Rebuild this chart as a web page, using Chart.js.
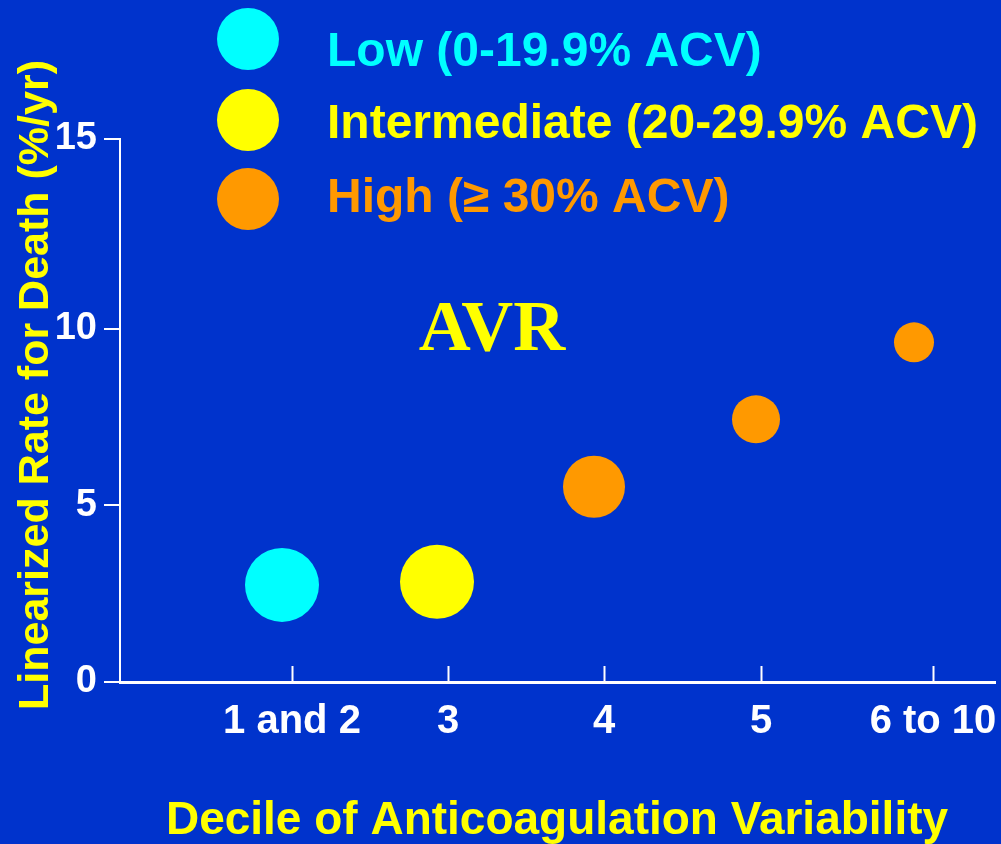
<!DOCTYPE html>
<html>
<head>
<meta charset="utf-8">
<script src="https://cdn.jsdelivr.net/npm/chart.js@4.4.1/dist/chart.umd.min.js"></script>
<style>
  html, body { margin: 0; padding: 0; background: #0033cc; }
  canvas { display: block; }
</style>
</head>
<body>
<canvas id="myChart" width="1001" height="844"></canvas>
<script>
// data
const xTickLabels = ['1 and 2', '3', '4', '5', '6 to 10']
const xTickPos = [1.72, 3.28, 4.84, 6.41, 8.13]
const yTickValues = [0, 5, 10, 15]

const bubbleX = [1.62, 3.17, 4.74, 6.36, 7.94]
const deathRate = [2.75, 2.84, 5.53, 7.44, 9.62]
const bubbleR = [37, 37, 31, 24, 20]
const acvGroup = ['low', 'intermediate', 'high', 'high', 'high']

const legendLabels = ['Low (0-19.9% ACV)', 'Intermediate (20-29.9% ACV)', 'High (\u2265 30% ACV)']
const groupColors = { low: '#00ffff', intermediate: '#ffff00', high: '#ff9900' }

const FONT = '"Liberation Sans", Arial, Helvetica, sans-serif'

const points = []
for (let i = 0; i < deathRate.length; i++) {
    points.push({ x: bubbleX[i], y: deathRate[i], r: bubbleR[i] })
}

const extras = {
    id: 'extras',
    afterDraw(chart) {
        const ctx = chart.ctx
        const xs = chart.scales.x
        const area = chart.chartArea

        // x tick marks point up into the plot
        ctx.save()
        ctx.strokeStyle = '#ffffff'
        ctx.lineWidth = 2
        xTickPos.forEach(v => {
            const px = Math.round(xs.getPixelForValue(v)) + 0.5
            ctx.beginPath()
            ctx.moveTo(px, area.bottom)
            ctx.lineTo(px, area.bottom - 16)
            ctx.stroke()
        })

        // legend
        const keys = ['low', 'intermediate', 'high']
        const rowY = [39, 120, 199]
        const baseY = [66, 138, 212]
        ctx.font = 'bold 48px ' + FONT
        ctx.textAlign = 'left'
        ctx.textBaseline = 'alphabetic'
        keys.forEach((k, i) => {
            ctx.fillStyle = groupColors[k]
            ctx.beginPath()
            ctx.arc(248, rowY[i], 31, 0, Math.PI * 2)
            ctx.fill()
            ctx.fillText(legendLabels[i], 327, baseY[i])
        })

        // AVR label
        ctx.fillStyle = '#ffff00'
        ctx.font = 'bold 72px "Liberation Serif", "Times New Roman", serif'
        ctx.textAlign = 'center'
        ctx.fillText('AVR', 492, 350)

        // axis titles
        ctx.font = 'bold 46px ' + FONT
        ctx.fillText('Decile of Anticoagulation Variability', 557, 834)

        ctx.translate(48, 385)
        ctx.rotate(-Math.PI / 2)
        ctx.font = 'bold 43px ' + FONT
        ctx.fillText('Linearized Rate for Death (%/yr)', 0, 0)
        ctx.restore()
    }
}

const ctx = document.getElementById('myChart').getContext('2d')
const myChart = new Chart(ctx, {
    type: 'bubble',
    data: {
        datasets: [{
            label: 'AVR',
            data: points,
            backgroundColor: acvGroup.map(g => groupColors[g]),
            borderWidth: 0,
            hoverRadius: 0
        }]
    },
    plugins: [extras],
    options: {
        responsive: false,
        animation: false,
        events: [],
        layout: { autoPadding: false, padding: { top: 139, right: 6, left: 0, bottom: 0 } },
        plugins: {
            legend: { display: false },
            tooltip: { enabled: false }
        },
        scales: {
            x: {
                type: 'linear',
                min: 0,
                max: 8.75,
                afterBuildTicks: (scale) => {
                    scale.ticks = xTickPos.map(v => ({ value: v }))
                },
                afterFit: (scale) => {
                    scale.height = 162
                    scale.paddingLeft = 0
                    scale.paddingRight = 0
                },
                ticks: {
                    color: '#ffffff',
                    font: { family: FONT, size: 40, weight: 'bold' },
                    padding: 16,
                    maxRotation: 0,
                    autoSkip: false,
                    callback: (v, i) => xTickLabels[i]
                },
                grid: { display: true, drawOnChartArea: false, drawTicks: false, color: 'rgba(0,0,0,0)' },
                border: { display: true, color: '#ffffff', width: 3 }
            },
            y: {
                min: 0,
                max: 15.38,
                afterBuildTicks: (scale) => {
                    // top tick sits at the end of the axis line
                    scale.ticks = yTickValues.map((v, i) => ({ value: i === yTickValues.length - 1 ? scale.max : v }))
                },
                afterFit: (scale) => { scale.width = 120 },
                ticks: {
                    color: '#ffffff',
                    font: { family: FONT, size: 38, weight: 'bold' },
                    padding: 7,
                    callback: (v, i) => String(yTickValues[i])
                },
                grid: { drawOnChartArea: false, drawTicks: true, tickLength: 16, color: '#ffffff', lineWidth: 2 },
                border: { display: true, color: '#ffffff', width: 2 }
            }
        }
    }
})
</script>
</body>
</html>
